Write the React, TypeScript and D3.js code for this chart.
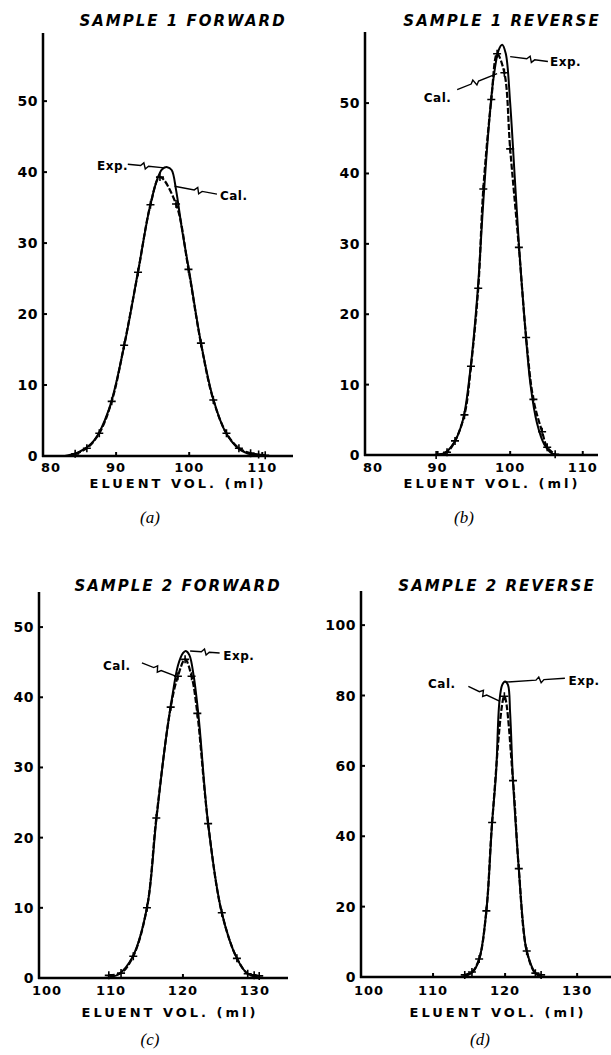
import React, { useEffect, useRef } from 'react';
import * as d3 from 'd3';

// Sample 1 forward (a)
const expAx = [83, 85, 87, 89, 91, 93, 94.5, 95.5, 96.3, 97, 97.6, 98.2, 99, 100, 101.6, 103.3, 105, 106.8, 108.5, 111];
const expAy = [0, 0.6, 2.2, 6.5, 15, 26, 34.5, 38.6, 40.4, 40.7, 40.3, 37.5, 32, 26, 16, 8, 3.3, 1.0, 0.2, 0];
const calAx = [84.4, 86.0, 87.7, 89.4, 91.1, 93.0, 94.7, 96.0, 98.2, 99.9, 101.6, 103.3, 105.1, 106.8, 108.4, 109.5, 110.4];
const calAy = [0.3, 1.1, 3.2, 7.7, 15.6, 25.9, 35.4, 39.3, 35.5, 26.3, 15.9, 7.9, 3.2, 1.1, 0.4, 0.2, 0.1];

// Sample 1 reverse (b)
const expBx = [89.5, 91, 92.3, 93.5, 94.5, 95.5, 96.3, 97, 97.7, 98.4, 98.9, 99.4, 100, 100.6, 101.2, 102, 102.8, 103.7, 104.7, 105.8, 107];
const expBy = [0, 0.3, 1.8, 5, 12, 23, 36, 46, 53.5, 57.5, 58.3, 57, 50, 40, 30, 19, 10, 4.5, 1.5, 0.2, 0];
const calBx = [89.8, 91.3, 92.4, 93.7, 94.6, 95.6, 96.3, 97.4, 98.2, 99.2, 100.0, 101.2, 102.2, 103.2, 104.4, 105.1, 106.2];
const calBy = [0, 0.4, 2.0, 5.7, 12.6, 23.7, 37.8, 50.5, 57.0, 54.3, 43.5, 29.5, 16.7, 7.9, 3.3, 1.1, 0.1];

// Sample 2 forward (c)
const expCx = [109, 111, 113, 115, 116.3, 117.5, 118.5, 119.3, 120, 120.4, 120.9, 121.5, 122.2, 123.5, 125.4, 127.5, 129, 131];
const expCy = [0, 0.5, 3, 10, 22.5, 33, 40, 44.5, 46.3, 46.6, 46, 43, 37, 22, 9.3, 2.8, 0.6, 0];
const calCx = [109.7, 111.4, 113.1, 115.0, 116.3, 118.3, 119.3, 120.3, 121.2, 122.0, 123.5, 125.4, 127.5, 129.0, 129.9, 130.6];
const calCy = [0.4, 0.7, 3.1, 10.0, 22.8, 38.6, 43.0, 45.4, 43.0, 37.7, 22.0, 9.3, 2.8, 0.6, 0.4, 0.3];

// Sample 2 reverse (d)
const expDx = [114, 115.5, 116.4, 117.4, 118.2, 118.75, 119.2, 119.6, 120.0, 120.4, 120.7, 121.1, 121.9, 122.5, 123.0, 124.2, 125];
const expDy = [0, 1.4, 5, 18.8, 43.9, 58, 78, 83, 84, 83, 75, 55.8, 30.8, 15, 7.4, 1.1, 0];
const calDx = [114.4, 115.4, 116.4, 117.4, 118.2, 119.9, 121.1, 121.9, 123.0, 124.2, 125.0];
const calDy = [0.6, 1.4, 5.1, 18.8, 43.9, 79.8, 55.8, 30.8, 7.4, 1.1, 0.6];

// Tick labels
const xTicks1 = [80, 90, 100, 110];
const xTicks2 = [100, 110, 120, 130];
const yTicks50 = [0, 10, 20, 30, 40, 50];
const yTicks100 = [0, 20, 40, 60, 80, 100];

const titles = ['SAMPLE 1 FORWARD', 'SAMPLE 1 REVERSE', 'SAMPLE 2 FORWARD', 'SAMPLE 2 REVERSE'];
const subLabels = ['(a)', '(b)', '(c)', '(d)'];

// annotation anchors in data units: [textX, textY, fromX, fromY, toX, toY]
const expNotes = [
    [87.4, 40.3, 91.6, 41.1, 96.6, 40.6],
    [105.5, 55.2, 105.2, 55.9, 100.0, 56.6],
    [125.6, 45.3, 125.1, 46.3, 121.0, 46.6],
    [128.8, 82.9, 128.3, 84.9, 120.0, 83.8],
];
const calNotes = [
    [104.2, 36.1, 103.8, 36.9, 98.0, 38.0],
    [88.1, 50.2, 92.7, 51.9, 98.2, 54.2],
    [108.9, 43.9, 114.3, 44.9, 119.0, 43.0],
    [109.3, 82.1, 114.9, 82.6, 119.3, 78.3],
];

const FONT = '"DejaVu Sans", sans-serif';

const Chromatograms = () => {
    const svgRef = useRef(null);

    useEffect(() => {
        const svg = d3.select(svgRef.current);
        svg.selectAll('*').remove();

        const panels = [
            { ex: expAx, ey: expAy, cx: calAx, cy: calAy, xt: xTicks1, yt: yTicks50,
              xd: [80, 114.2], xr: [43, 293], yd: [0, 59.6], yr: [456, 33],
              titleX: 183, titleY: 26, labX: 178, labY: 488, tickY: 472, subX: 150, subY: 523 },
            { ex: expBx, ey: expBy, cx: calBx, cy: calBy, xt: xTicks1, yt: yTicks50,
              xd: [80, 112.1], xr: [365, 598], yd: [0, 60.1], yr: [455, 32],
              titleX: 502, titleY: 26, labX: 492, labY: 488, tickY: 472, subX: 464, subY: 523 },
            { ex: expCx, ey: expCy, cx: calCx, cy: calCy, xt: xTicks2, yt: yTicks50,
              xd: [100, 134.6], xr: [39, 288], yd: [0, 55], yr: [978, 592],
              titleX: 178, titleY: 591, labX: 170, labY: 1017, tickY: 995, subX: 150, subY: 1045 },
            { ex: expDx, ey: expDy, cx: calDx, cy: calDy, xt: xTicks2, yt: yTicks100,
              xd: [100, 134.7], xr: [361, 611], yd: [0, 109.7], yr: [977, 591],
              titleX: 497, titleY: 591, labX: 498, labY: 1017, tickY: 995, subX: 480, subY: 1045 },
        ];

        panels.forEach((p, i) => {
            const x = d3.scaleLinear().domain(p.xd).range(p.xr);
            const y = d3.scaleLinear().domain(p.yd).range(p.yr);
            const g = svg.append('g');
            const x0 = p.xr[0];
            const y0 = p.yr[0];

            // Title
            g.append('text')
                .attr('x', p.titleX)
                .attr('y', p.titleY)
                .attr('text-anchor', 'middle')
                .style('font-family', FONT)
                .style('font-size', '15px')
                .style('font-weight', 'bold')
                .style('font-style', 'italic')
                .style('letter-spacing', '2px')
                .text(titles[i]);

            // Axes
            g.append('line')
                .attr('x1', x0).attr('x2', x0)
                .attr('y1', p.yr[1]).attr('y2', y0 + 1)
                .style('stroke', '#000').style('stroke-width', 2.5);
            g.append('line')
                .attr('x1', x0 - 1).attr('x2', p.xr[1])
                .attr('y1', y0).attr('y2', y0)
                .style('stroke', '#000').style('stroke-width', 2.5);

            // Y ticks
            p.yt.forEach(t => {
                g.append('line')
                    .attr('x1', x0).attr('x2', x0 + 4)
                    .attr('y1', y(t)).attr('y2', y(t))
                    .style('stroke', '#000').style('stroke-width', 2);
                g.append('text')
                    .attr('x', x0 - 5)
                    .attr('y', y(t) + 5)
                    .attr('text-anchor', 'end')
                    .style('font-family', FONT)
                    .style('font-size', '14px')
                    .style('font-weight', 'bold')
                    .style('letter-spacing', '0.5px')
                    .text(t);
            });

            // X ticks
            p.xt.forEach((t, k) => {
                if (k > 0) {
                    g.append('line')
                        .attr('x1', x(t)).attr('x2', x(t))
                        .attr('y1', y0).attr('y2', y0 - 4)
                        .style('stroke', '#000').style('stroke-width', 2);
                }
                g.append('text')
                    .attr('x', x(t) + (k === 0 ? 8 : 0))
                    .attr('y', p.tickY)
                    .attr('text-anchor', 'middle')
                    .style('font-family', FONT)
                    .style('font-size', '13px')
                    .style('font-weight', 'bold')
                    .style('letter-spacing', '1px')
                    .text(t);
            });

            // Axis label
            g.append('text')
                .attr('x', p.labX)
                .attr('y', p.labY)
                .attr('text-anchor', 'middle')
                .style('font-family', FONT)
                .style('font-size', '13px')
                .style('font-weight', 'bold')
                .style('letter-spacing', '3px')
                .text('ELUENT VOL. (ml)');

            // Sub label
            g.append('text')
                .attr('x', p.subX)
                .attr('y', p.subY)
                .attr('text-anchor', 'middle')
                .style('font-family', '"Liberation Serif", serif')
                .style('font-size', '17px')
                .style('font-style', 'italic')
                .text(subLabels[i]);

            const line = d3.line()
                .x(d => x(d[0]))
                .y(d => y(d[1]))
                .curve(d3.curveCatmullRom.alpha(0.5));

            // Exp. (solid)
            g.append('path')
                .datum(p.ex.map((v, k) => [v, p.ey[k]]))
                .attr('d', line)
                .style('fill', 'none')
                .style('stroke', '#000')
                .style('stroke-width', 2);

            // Cal. (dashed with + markers)
            const cal = p.cx.map((v, k) => [v, p.cy[k]]);
            g.append('path')
                .datum(cal)
                .attr('d', line)
                .style('fill', 'none')
                .style('stroke', '#000')
                .style('stroke-width', 2.2)
                .style('stroke-dasharray', '6,2');

            g.selectAll('.mark')
                .data(cal)
                .enter()
                .append('path')
                .attr('d', d => {
                    const px = x(d[0]);
                    const py = y(d[1]);
                    return `M${px - 4},${py}H${px + 4}M${px},${py - 4}V${py + 4}`;
                })
                .style('stroke', '#000')
                .style('stroke-width', 1.6);

            // Annotations
            const leader = (n) => {
                const ax = x(n[2]), ay = y(n[3]), bx = x(n[4]), by = y(n[5]);
                const len = Math.hypot(bx - ax, by - ay);
                const ux = (bx - ax) / len, uy = (by - ay) / len;
                const nx = -uy, ny = ux;
                const mx = ax + ux * len * 0.35, my = ay + uy * len * 0.35;
                return `M${ax},${ay}L${mx},${my}` +
                    `L${mx + ux * 3 - nx * 3},${my + uy * 3 - ny * 3}` +
                    `L${mx + ux * 5 + nx * 3},${my + uy * 5 + ny * 3}` +
                    `L${mx + ux * 8},${my + uy * 8}L${bx},${by}`;
            };

            [[expNotes[i], 'Exp.'], [calNotes[i], 'Cal.']].forEach(([n, label]) => {
                g.append('path')
                    .attr('d', leader(n))
                    .style('fill', 'none')
                    .style('stroke', '#000')
                    .style('stroke-width', 1.4);
                g.append('text')
                    .attr('x', x(n[0]))
                    .attr('y', y(n[1]))
                    .style('font-family', FONT)
                    .style('font-size', '12px')
                    .style('font-weight', 'bold')
                    .style('letter-spacing', '0.5px')
                    .text(label);
            });
        });
    }, []);

    return (
        <svg ref={svgRef} width={611} height={1055}
            style={{ position: 'absolute', left: 0, top: 0, background: '#fff' }}></svg>
    );
};

export default function App() {
    return <Chromatograms />;
}
